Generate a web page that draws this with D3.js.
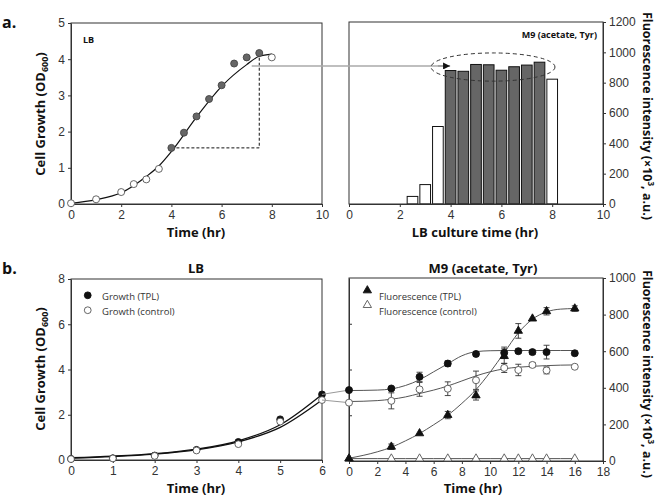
<!DOCTYPE html>
<html>
<head>
<meta charset="utf-8">
<script src="https://cdn.jsdelivr.net/npm/d3@7"></script>
<style>
  body { margin: 0; background: #fff; }
  svg { font-family: "Open Sans", "Noto Sans", sans-serif; }
  .tick text { font-size: 12px; fill: #333; }
  .domain, .tick line { stroke: #333; }
  .title { font-weight: bold; font-size: 13px; fill: #111; }
  .legend { font-size: 9.5px; fill: #333; }
</style>
</head>
<body>
<svg id="chart" width="658" height="498"></svg>
<script>

// a. growth in LB (OD600)
const lbOpenT   = [0, 1, 2, 2.5, 3, 3.5, 8];
const lbOpenOD  = [0.02, 0.13, 0.33, 0.55, 0.68, 0.97, 4.05];
const lbFillT   = [4, 4.5, 5, 5.5, 6, 6.5, 7, 7.5];
const lbFillOD  = [1.55, 1.97, 2.42, 2.9, 3.28, 3.88, 4.05, 4.17];
const lbFitT    = [0, 1, 2, 3, 3.5, 4, 5, 6, 7, 7.5, 8];
const lbFitOD   = [0.02, 0.12, 0.31, 0.76, 1.05, 1.45, 2.4, 3.25, 3.85, 4.08, 4.14];

// a. fluorescence in M9 by LB culture time
const barT      = [2.5, 3, 3.5, 4, 4.5, 5, 5.5, 6, 6.5, 7, 7.5, 8];
const barFl     = [50, 128, 511, 880, 875, 920, 918, 882, 905, 916, 935, 823];
const barPicked = [false, false, false, true, true, true, true, true, true, true, true, false];

// b. LB phase
const bLbT      = [0, 1, 2, 3, 4, 5, 6];
const bLbTpl    = [0.05, 0.08, 0.2, 0.45, 0.8, 1.8, 2.9];
const bLbCtl    = [0.04, 0.07, 0.18, 0.42, 0.7, 1.7, 2.65];
const bLbTplFit = [0.1, 0.17, 0.28, 0.48, 0.85, 1.56, 2.9];
const bLbCtlFit = [0.08, 0.15, 0.26, 0.45, 0.8, 1.44, 2.65];

// b. M9 phase
const m9T          = [0, 3, 5, 7, 9, 11, 12, 13, 14, 16];
const m9GrowTpl    = [3.1, 3.17, 3.68, 4.26, 4.68, 4.73, 4.8, 4.76, 4.76, 4.71];
const m9GrowTplErr = [0, 0, 0.2, 0.12, 0.1, 0.25, 0.1, 0.1, 0.3, 0.1];
const m9GrowCtl    = [2.55, 2.63, 3.13, 3.16, 3.53, 4.07, 3.98, 4.2, 3.96, 4.12];
const m9GrowCtlErr = [0, 0.35, 0.3, 0.3, 0.4, 0.2, 0.25, 0.1, 0.15, 0];
const m9FlTpl      = [13, 78, 151, 251, 358, 573, 711, 778, 818, 833];
const m9FlTplErr   = [0, 15, 0, 20, 25, 40, 40, 0, 20, 15];
const m9FlCtl      = [13, 13, 13, 13, 13, 13, 13, 13, 13, 13];

const m9FitT       = [0, 2, 3, 4, 5, 6, 7, 8, 9, 10, 11, 12, 13, 14, 15, 16];
const m9GrowTplFit = [3.08, 3.1, 3.15, 3.3, 3.55, 3.9, 4.25, 4.6, 4.78, 4.82, 4.83, 4.83, 4.83, 4.83, 4.83, 4.83];
const m9GrowCtlFit = [2.6, 2.64, 2.7, 2.8, 2.95, 3.1, 3.28, 3.5, 3.72, 3.9, 4.03, 4.1, 4.14, 4.17, 4.19, 4.2];
const m9FlTplFit   = [15, 50, 75, 110, 150, 198, 250, 315, 390, 485, 592, 700, 775, 815, 830, 833];
const m9FlCtlFit   = [13, 13, 13, 13, 13, 13, 13, 13, 13, 13, 13, 13, 13, 13, 13, 13];

const svg = d3.select('#chart');
const fmt = d3.format('d');

svg.append('defs').append('marker')
  .attr('id', 'arrow')
  .attr('viewBox', '0 0 10 10')
  .attr('refX', 10).attr('refY', 5)
  .attr('markerWidth', 7).attr('markerHeight', 7)
  .attr('markerUnits', 'userSpaceOnUse')
  .attr('orient', 'auto')
  .append('path').attr('d', 'M0,0L10,5L0,10Z').attr('fill', '#111');

// helpers

function box(x, y) {
  const [x0, x1] = x.range(), [y0, y1] = y.range();
  svg.append('rect')
    .attr('x', x0).attr('y', y1)
    .attr('width', x1 - x0).attr('height', y0 - y1)
    .attr('fill', 'none').attr('stroke', '#333');
}

function bottomAxis(x, y, values) {
  svg.append('g')
    .attr('transform', `translate(0,${y.range()[0]})`)
    .call(d3.axisBottom(x).tickValues(values).tickFormat(fmt).tickSize(3).tickSizeOuter(0).tickPadding(3));
}

function leftAxis(x, y, values) {
  svg.append('g')
    .attr('transform', `translate(${x.range()[0]},0)`)
    .call(d3.axisLeft(y).tickValues(values).tickFormat(fmt).tickSize(3).tickSizeOuter(0).tickPadding(3));
}

function rightAxis(x, y, values) {
  svg.append('g')
    .attr('transform', `translate(${x.range()[1]},0)`)
    .call(d3.axisRight(y).tickValues(values).tickFormat(fmt).tickSize(3).tickSizeOuter(0).tickPadding(3));
}

function curve(x, y, ts, vs, color, width) {
  svg.append('path')
    .datum(d3.zip(ts, vs))
    .attr('d', d3.line().x((d) => x(d[0])).y((d) => y(d[1])).curve(d3.curveMonotoneX))
    .attr('fill', 'none')
    .attr('stroke', color)
    .attr('stroke-width', width);
}

function errorBars(x, y, ts, vs, es) {
  ts.forEach((t, i) => {
    if (!es[i]) return;
    const cx = x(t), top = y(vs[i] + es[i]), bot = y(vs[i] - es[i]);
    const g = svg.append('g').attr('stroke', '#333').attr('stroke-width', 0.9);
    g.append('line').attr('x1', cx).attr('x2', cx).attr('y1', top).attr('y2', bot);
    g.append('line').attr('x1', cx - 3).attr('x2', cx + 3).attr('y1', top).attr('y2', top);
    g.append('line').attr('x1', cx - 3).attr('x2', cx + 3).attr('y1', bot).attr('y2', bot);
  });
}

function dots(x, y, ts, vs, fill, stroke, r) {
  svg.append('g').selectAll('circle')
    .data(d3.zip(ts, vs))
    .join('circle')
    .attr('cx', (d) => x(d[0]))
    .attr('cy', (d) => y(d[1]))
    .attr('r', r)
    .attr('fill', fill)
    .attr('stroke', stroke)
    .attr('stroke-width', 0.9);
}

function triangles(x, y, ts, vs, fill, stroke) {
  svg.append('g').selectAll('path')
    .data(d3.zip(ts, vs))
    .join('path')
    .attr('transform', (d) => `translate(${x(d[0])},${y(d[1])})`)
    .attr('d', d3.symbol(d3.symbolTriangle, 30))
    .attr('fill', fill)
    .attr('stroke', stroke)
    .attr('stroke-width', 0.9);
}

function text(x, y, str, cls, anchor, size) {
  return svg.append('text')
    .attr('class', cls)
    .attr('x', x).attr('y', y)
    .attr('text-anchor', anchor || 'start')
    .style('font-size', size ? size + 'px' : null)
    .text(str);
}

function yTitleLeft(cx, cy) {
  const t = svg.append('text')
    .attr('class', 'title')
    .attr('transform', `translate(${cx},${cy}) rotate(-90)`)
    .attr('text-anchor', 'middle')
    .attr('y', 5)
    .text('Cell Growth (OD');
  t.append('tspan').attr('dy', 3).style('font-size', '9px').text('600');
  t.append('tspan').attr('dy', -3).text(')');
}

function yTitleRight(cx, cy) {
  const t = svg.append('text')
    .attr('class', 'title')
    .attr('transform', `translate(${cx},${cy}) rotate(90)`)
    .attr('text-anchor', 'middle')
    .attr('y', 5)
    .style('font-size', '12.5px')
    .text('Fluorescence intensity (×10');
  t.append('tspan').attr('dy', -5).style('font-size', '8px').text('3');
  t.append('tspan').attr('dy', 5).text(', a.u.)');
}

// panel a, left: LB growth

const xA1 = d3.scaleLinear().domain([0, 10]).range([71, 322]);
const yA1 = d3.scaleLinear().domain([0, 5]).range([204, 23]);

box(xA1, yA1);
bottomAxis(xA1, yA1, [0, 2, 4, 6, 8, 10]);
leftAxis(xA1, yA1, [0, 1, 2, 3, 4, 5]);

svg.append('path')
  .attr('d', `M${xA1(lbFillT[0])},${yA1(lbFillOD[0])}H${xA1(7.5)}V${yA1(4.1)}`)
  .attr('fill', 'none').attr('stroke', '#111')
  .attr('stroke-dasharray', '3,2');

curve(xA1, yA1, lbFitT, lbFitOD, '#111', 1.2);
dots(xA1, yA1, lbOpenT, lbOpenOD, '#fff', '#555', 3.5);
dots(xA1, yA1, lbFillT, lbFillOD, '#666', '#444', 3.5);

text(83, 43, 'LB', 'title', 'start', 9);
text(2, 28, 'a.', 'title', 'start', 16);
text(196, 237, 'Time (hr)', 'title', 'middle');
yTitleLeft(40, 114);

// panel a, right: fluorescence vs LB culture time

const xA2 = d3.scaleLinear().domain([0, 10]).range([349, 603]);
const yA2 = d3.scaleLinear().domain([0, 1200]).range([204, 22]);
const barW = xA2(0.42) - xA2(0);

svg.append('g').selectAll('rect')
  .data(d3.zip(barT, barFl, barPicked))
  .join('rect')
  .attr('x', (d) => xA2(d[0]) - barW / 2)
  .attr('y', (d) => yA2(d[1]))
  .attr('width', barW)
  .attr('height', (d) => yA2(0) - yA2(d[1]))
  .attr('fill', (d) => d[2] ? '#666' : '#fff')
  .attr('stroke', '#111')
  .attr('stroke-width', 1);

box(xA2, yA2);
bottomAxis(xA2, yA2, [0, 2, 4, 6, 8, 10]);
rightAxis(xA2, yA2, [0, 200, 400, 600, 800, 1000, 1200]);

// link from the LB curve to the picked bars
const linkY = yA2(910);
svg.append('line')
  .attr('x1', xA1(7.2)).attr('x2', xA2(3.98))
  .attr('y1', linkY).attr('y2', linkY)
  .attr('stroke', '#aaa').attr('stroke-width', 1.5);
svg.append('line')
  .attr('x1', xA2(3.5)).attr('x2', xA2(3.98))
  .attr('y1', linkY).attr('y2', linkY)
  .attr('stroke', '#888').attr('stroke-width', 1)
  .attr('marker-end', 'url(#arrow)');

svg.append('ellipse')
  .attr('cx', xA2(5.67)).attr('cy', yA2(903))
  .attr('rx', xA2(5.67) - xA2(3.23)).attr('ry', yA2(810) - yA2(903))
  .attr('fill', 'none').attr('stroke', '#333')
  .attr('stroke-dasharray', '4,3');

text(597, 38, 'M9 (acetate, Tyr)', 'title', 'end', 9);
text(475, 237, 'LB culture time (hr)', 'title', 'middle');
yTitleRight(648, 116);

// panel b, left: LB phase

const xB1 = d3.scaleLinear().domain([0, 6]).range([71, 322]);
const yB1 = d3.scaleLinear().domain([0, 8]).range([460, 279]);

box(xB1, yB1);
bottomAxis(xB1, yB1, [0, 1, 2, 3, 4, 5, 6]);
leftAxis(xB1, yB1, [0, 2, 4, 6, 8]);

curve(xB1, yB1, bLbT, bLbTplFit, '#111', 1.3);
curve(xB1, yB1, bLbT, bLbCtlFit, '#111', 1.3);
dots(xB1, yB1, bLbT, bLbTpl, '#111', '#111', 3.4);
dots(xB1, yB1, bLbT, bLbCtl, '#fff', '#555', 3.4);

text(2, 274, 'b.', 'title', 'start', 16);
text(196, 273, 'LB', 'title', 'middle');
text(196, 493, 'Time (hr)', 'title', 'middle');
yTitleLeft(40, 369);

dots(xB1, yB1, [0.4], [7.28], '#111', '#111', 3.4);
dots(xB1, yB1, [0.4], [6.62], '#fff', '#555', 3.4);
text(102, 300, 'Growth (TPL)', 'legend');
text(102, 315, 'Growth (control)', 'legend');

// panel b, right: M9 phase

const xB2  = d3.scaleLinear().domain([0, 18]).range([349, 603]);
const yB2L = d3.scaleLinear().domain([0, 8]).range([461, 278]);
const yB2R = d3.scaleLinear().domain([0, 1000]).range([461, 278]);

box(xB2, yB2L);
bottomAxis(xB2, yB2L, d3.range(0, 19, 2));
rightAxis(xB2, yB2R, [0, 200, 400, 600, 800, 1000]);
svg.append('g')
  .attr('transform', `translate(${xB2(0)},0)`)
  .call(d3.axisRight(yB2L).tickValues([2, 4, 6]).tickSize(3).tickSizeOuter(0).tickFormat(''));

// grey links between the two phases
[[bLbTpl, m9GrowTpl], [bLbCtl, m9GrowCtl]].forEach(([lb, m9]) => {
  svg.append('line')
    .attr('x1', xB1(6)).attr('y1', yB1(lb[lb.length - 1]))
    .attr('x2', xB2(0)).attr('y2', yB2L(m9[0]))
    .attr('stroke', '#999').attr('stroke-width', 1);
});

curve(xB2, yB2L, m9FitT, m9GrowTplFit, '#555', 1);
curve(xB2, yB2L, m9FitT, m9GrowCtlFit, '#555', 1);
curve(xB2, yB2R, m9FitT, m9FlTplFit, '#555', 1);
curve(xB2, yB2R, m9FitT, m9FlCtlFit, '#555', 1);

errorBars(xB2, yB2L, m9T, m9GrowTpl, m9GrowTplErr);
errorBars(xB2, yB2L, m9T, m9GrowCtl, m9GrowCtlErr);
errorBars(xB2, yB2R, m9T, m9FlTpl, m9FlTplErr);

dots(xB2, yB2L, m9T, m9GrowCtl, '#fff', '#555', 3.5);
dots(xB2, yB2L, m9T, m9GrowTpl, '#111', '#111', 3.5);
triangles(xB2, yB2R, m9T, m9FlCtl, '#fff', '#555');
triangles(xB2, yB2R, m9T, m9FlTpl, '#111', '#111');

triangles(xB2, yB2R, [1.3], [932], '#111', '#111');
triangles(xB2, yB2R, [1.3], [852], '#fff', '#555');
text(379, 300, 'Fluorescence (TPL)', 'legend');
text(379, 315, 'Fluorescence (control)', 'legend');

text(483, 273, 'M9 (acetate, Tyr)', 'title', 'middle');
text(473, 493, 'Time (hr)', 'title', 'middle');
yTitleRight(648, 374);

</script>
</body>
</html>
